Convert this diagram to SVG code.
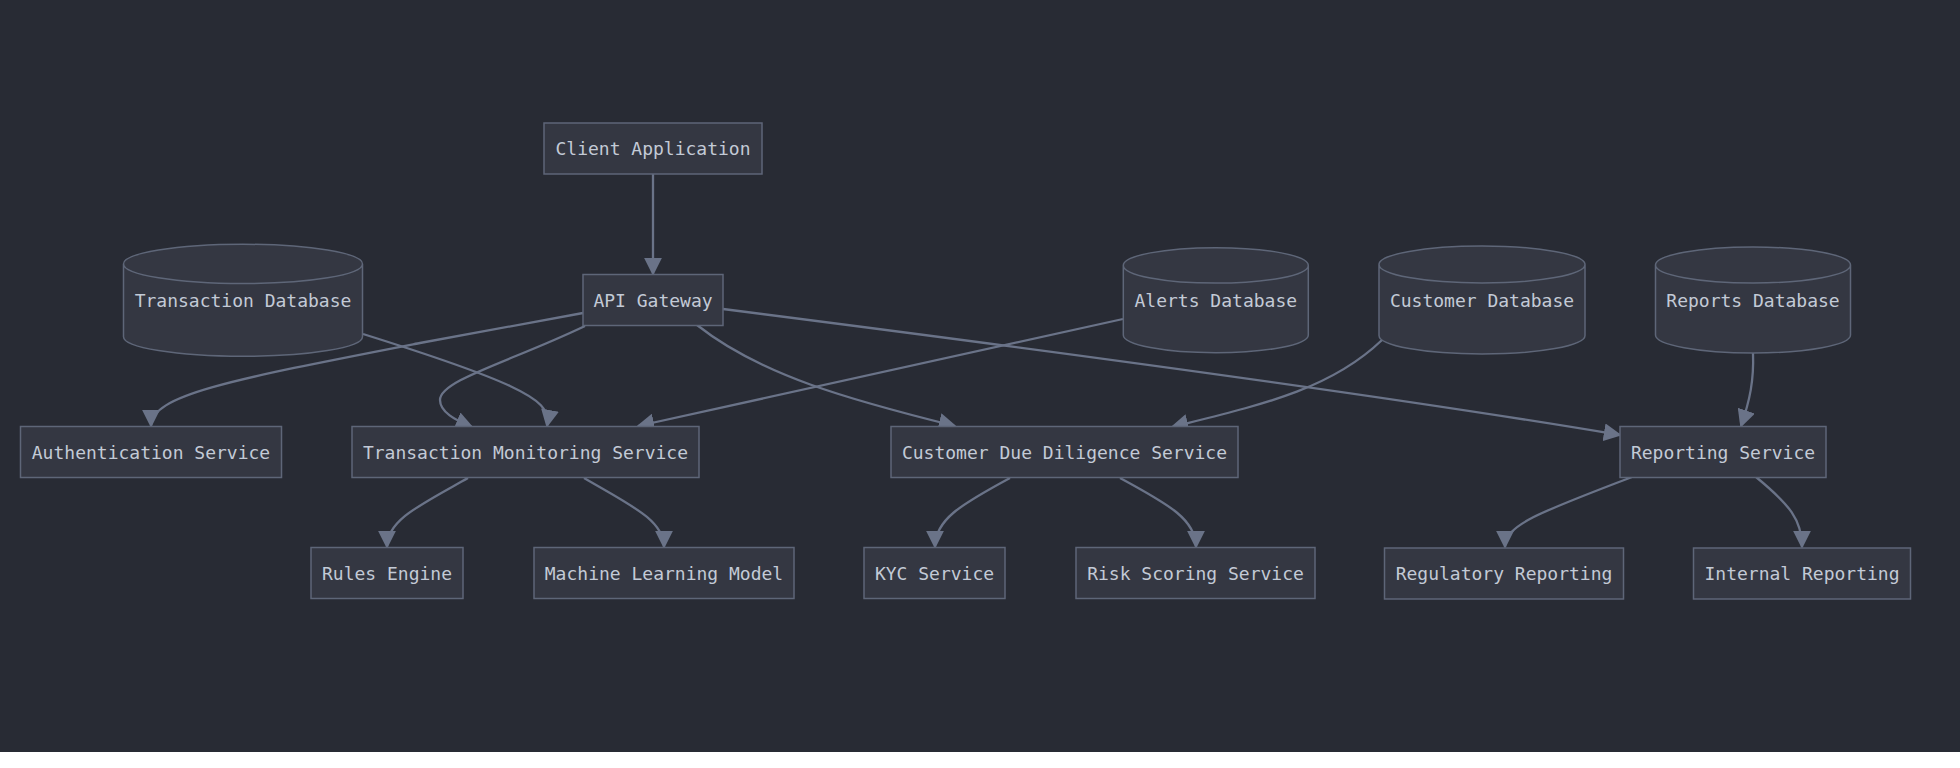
<svg xmlns="http://www.w3.org/2000/svg" width="1960" height="768" viewBox="0 0 1960 768">
<defs>
<style>
.node rect, .node path { fill: #343742; stroke: #5e6678; stroke-width: 1.5; }
.node text { font-family: "DejaVu Sans Mono", "Liberation Mono", monospace; font-size: 18px; fill: #c3cad6; text-anchor: middle; }
.edges path { fill: none; stroke: #6a7388; stroke-width: 2.3; marker-end: url(#arrow); }
</style>
<marker id="arrow" viewBox="0 0 10 10" refX="9" refY="5" markerUnits="userSpaceOnUse" markerWidth="18" markerHeight="18" orient="auto">
<path d="M0,0 L10,5 L0,10 z" fill="#6a7388"/>
</marker>
</defs>
<rect x="0" y="0" width="1960" height="752" fill="#282b34"/>
<rect x="0" y="752" width="1960" height="16" fill="#ffffff"/>

<g class="edges">
<path d="M653,174 L653,274"/>
<path d="M583,313 L420,343 C230,380 151,395 151,426"/>
<path d="M585,326 C510,362 440,380 440,400 C440,412 455,420 472,427"/>
<path d="M363,334 C430,355 480,372 510,386 C540,400 550,410 547,426"/>
<path d="M1123,319 L638,426"/>
<path d="M697,325 C760,375 850,400 955,426"/>
<path d="M1382,340 C1330,390 1260,405 1172,427"/>
<path d="M723,309 C1100,357 1400,398 1620,435"/>
<path d="M1753,353 C1754,380 1750,400 1741,426"/>
<path d="M1632,477 C1540,512 1505,525 1505,547"/>
<path d="M1756,477 C1790,505 1802,520 1802,547"/>
<path d="M468,478 C420,505 387,520 387,547"/>
<path d="M584,478 C630,505 664,520 664,547"/>
<path d="M1010,478 C960,505 935,520 935,547"/>
<path d="M1120,478 C1170,505 1196,520 1196,547"/>
</g>

<g id="client-application" class="node"><rect x="544" y="123" width="218" height="51"/><text x="653" y="155">Client Application</text></g>
<g id="api-gateway" class="node"><rect x="583" y="274.5" width="140" height="51"/><text x="653" y="306.5">API Gateway</text></g>
<g id="transaction-database" class="node"><path d="M123.5,263.9 a119.5,19.6 0 0,0 239,0 a119.5,19.6 0 0,0 -239,0 l0,72.8 a119.5,19.6 0 0,0 239,0 l0,-72.8"/><text x="243" y="307">Transaction Database</text></g>
<g id="alerts-database" class="node"><path d="M1123.3,265.4 a92.5,17.7 0 0,0 185,0 a92.5,17.7 0 0,0 -185,0 l0,69.6 a92.5,17.7 0 0,0 185,0 l0,-69.6"/><text x="1215.8" y="307">Alerts Database</text></g>
<g id="customer-database" class="node"><path d="M1379,264.5 a103,18.5 0 0,0 206,0 a103,18.5 0 0,0 -206,0 l0,71 a103,18.5 0 0,0 206,0 l0,-71"/><text x="1482" y="307">Customer Database</text></g>
<g id="reports-database" class="node"><path d="M1655.5,265 a97.5,18 0 0,0 195,0 a97.5,18 0 0,0 -195,0 l0,70 a97.5,18 0 0,0 195,0 l0,-70"/><text x="1753" y="307">Reports Database</text></g>
<g id="authentication-service" class="node"><rect x="20.5" y="426.5" width="261" height="51"/><text x="151" y="458.5">Authentication Service</text></g>
<g id="transaction-monitoring-service" class="node"><rect x="352" y="426.5" width="347" height="51"/><text x="525.5" y="458.5">Transaction Monitoring Service</text></g>
<g id="customer-due-diligence-service" class="node"><rect x="891" y="426.5" width="347" height="51"/><text x="1064.5" y="458.5">Customer Due Diligence Service</text></g>
<g id="reporting-service" class="node"><rect x="1620" y="426.5" width="206" height="51"/><text x="1723" y="458.5">Reporting Service</text></g>
<g id="rules-engine" class="node"><rect x="311" y="547.5" width="152" height="51"/><text x="387" y="579.5">Rules Engine</text></g>
<g id="machine-learning-model" class="node"><rect x="534" y="547.5" width="260" height="51"/><text x="664" y="579.5">Machine Learning Model</text></g>
<g id="kyc-service" class="node"><rect x="864" y="547.5" width="141" height="51"/><text x="934.5" y="579.5">KYC Service</text></g>
<g id="risk-scoring-service" class="node"><rect x="1076" y="547.5" width="239" height="51"/><text x="1195.5" y="579.5">Risk Scoring Service</text></g>
<g id="regulatory-reporting" class="node"><rect x="1384.5" y="548" width="239" height="51"/><text x="1504" y="580">Regulatory Reporting</text></g>
<g id="internal-reporting" class="node"><rect x="1693.5" y="548" width="217" height="51"/><text x="1802" y="580">Internal Reporting</text></g>
</svg>
